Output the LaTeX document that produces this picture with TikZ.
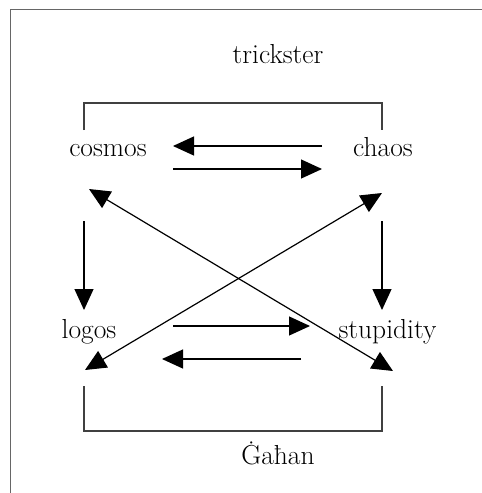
\documentclass[tikz,border=0pt]{standalone}
\usepackage{tikz}
\usetikzlibrary{arrows.meta,positioning,calc}

\tikzset{
  word/.style={anchor=base, inner sep=0pt, font=\fontsize{27.5}{32}\selectfont},
  arr/.style={line width=1.2pt, -{Triangle[length=21pt,width=19pt]}},
  dblarr/.style={line width=1.2pt, {Triangle[length=21pt,width=19pt]}-{Triangle[length=21pt,width=19pt]}},
  bracket/.style={line width=1.1pt, draw=black!75},
  border/.style={line width=0.8pt, draw=black!60}
}

\begin{document}
\begin{tikzpicture}[x=1pt,y=-1pt]
\useasboundingbox (0,0) rectangle (482,493);
\draw[border] (10,493) -- (10,9) -- (482,9);

% the words
\node[word] (trick) at (278,63) {trickster};
\node[word] (cosmos) at (108,156) {cosmos};
\node[word] (chaos) at (383,156) {chaos};
\node[word] (logos) at (89,338) {logos};
\node[word] (stupid) at (387.5,338) {stupidity};
\node[word] (gahan) at (278,464) {Ġaħan};

% brackets
\draw[bracket] ([shift={(-24,-26)}]cosmos.base) -- ++(0,-27) -| ([shift={(-1,-26)}]chaos.base);
\draw[bracket] ([shift={(-5,48)}]logos.base) -- ++(0,45) -| ([shift={(-5.5,48)}]stupid.base);

% horizontal pairs
\draw[arr] ([shift={(-61,-10)}]chaos.base) -- ([shift={(65,-10)}]cosmos.base);
\draw[arr] ([shift={(65,13)}]cosmos.base) -- ([shift={(-61,13)}]chaos.base);
\draw[arr] ([shift={(84,-12)}]logos.base) -- ([shift={(-77.5,-12)}]stupid.base);
\draw[arr] ([shift={(-86.5,21)}]stupid.base) -- ([shift={(73,21)}]logos.base);

% verticals
\draw[arr] ([shift={(-24,65)}]cosmos.base) -- ([shift={(-5,-28)}]logos.base);
\draw[arr] ([shift={(-1,65)}]chaos.base) -- ([shift={(-5.5,-28)}]stupid.base);

% diagonals
\draw[dblarr] ([shift={(-19,33)}]cosmos.base) -- ([shift={(5.5,33)}]stupid.base);
\draw[dblarr] ([shift={(-1,37)}]chaos.base) -- ([shift={(-4,32)}]logos.base);
\end{tikzpicture}
\end{document}
